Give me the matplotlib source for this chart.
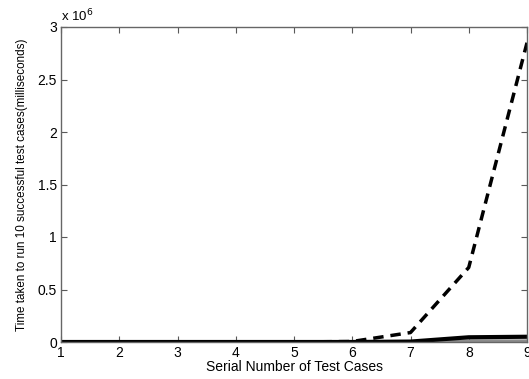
import matplotlib
matplotlib.use("Agg")
import matplotlib.pyplot as plt

plt.rcParams['font.family'] = ['Liberation Sans', 'DejaVu Sans']

cases = [1, 2, 3, 4, 5, 6, 7, 8, 9]
dashed_vals = [0, 0, 0, 0, 0, 0.005e6, 0.09e6, 0.71e6, 2.85e6]
solid_vals = [0, 0, 0, 0, 0, 0, 0.004e6, 0.045e6, 0.05e6]
gray_vals = [0, 0, 0, 0, 0, 0, 0.001e6, 0.012e6, 0.012e6]

fig = plt.figure(figsize=(5.29, 3.79), dpi=100)
ax = fig.add_axes([61/529, 1-342/379, 466/529, 315/379])

ax.plot(cases, gray_vals, color='0.55', lw=2.0)
ax.plot(cases, solid_vals, color='black', lw=3.0)
ax.plot(cases, dashed_vals, color='black', lw=2.5, linestyle=(0, (3, 2)))

ax.set_xlim(1, 9)
ax.set_ylim(0, 3e6)
ax.set_xticks(cases)
ax.set_yticks([0, 0.5e6, 1e6, 1.5e6, 2e6, 2.5e6, 3e6])
ax.set_yticklabels(['0', '0.5', '1', '1.5', '2', '2.5', '3'])
ax.tick_params(direction='in', top=True, right=True, labelsize=10, length=4, color='0.35', width=0.8, pad=3)
for s in ax.spines.values():
    s.set_color('0.4')
    s.set_linewidth(1.0)

ax.text(0.0, 1.01, r'x 10$^{6}$', transform=ax.transAxes, fontsize=9.5, ha='left', va='bottom')
ax.set_xlabel('Serial Number of Test Cases', fontsize=10, labelpad=0)
ax.set_ylabel('Time taken to run 10 successful test cases(milliseconds)', fontsize=8.4, labelpad=7)

fig.savefig('out.png', dpi=100)
